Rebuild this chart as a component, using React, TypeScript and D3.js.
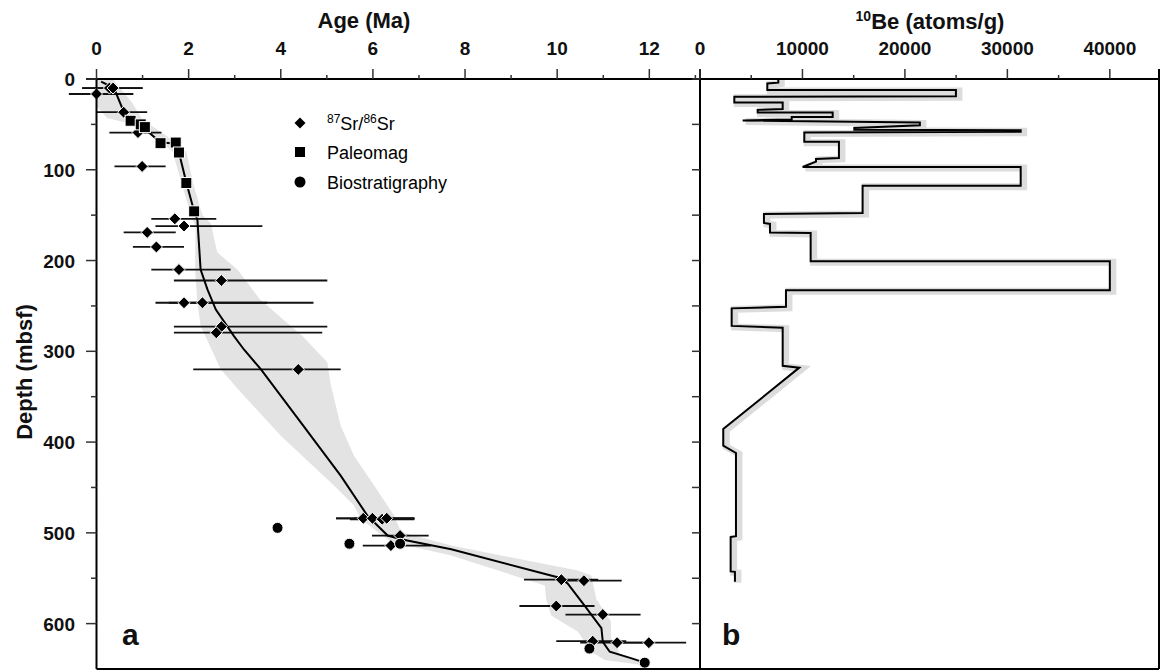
import React from "react";
import * as d3 from "d3";

// --- panel a: age tie points ---
const srAge = [0.28, 0.36, 0.0, 0.59, 0.9, 0.99, 1.7, 1.9, 1.1, 1.3, 1.79, 2.71, 1.9, 2.3, 2.71, 2.6, 4.38, 5.79, 5.99, 6.2, 6.3, 6.59, 6.39, 10.09, 10.58, 9.98, 10.99, 10.77, 11.3, 11.99];
const srDepth = [10, 10, 16.5, 36.6, 59, 96.3, 154, 162, 169, 185, 210, 222, 246.5, 246.5, 272.8, 279.5, 320, 484, 484, 485, 484, 503, 514, 551.6, 552.7, 580.6, 590, 619.4, 621, 621];
const srErrLo = [-0.31, -0.31, -0.6, 0.0, 0.28, 0.39, 1.19, 1.28, 0.59, 0.79, 1.19, 1.68, 1.28, 1.57, 1.68, 1.68, 2.1, 5.2, 5.2, 5.5, 5.6, 5.98, 5.78, 9.28, 10.09, 9.18, 10.18, 9.98, 10.5, 11.2];
const srErrHi = [1.0, 1.0, 0.8, 1.1, 1.41, 1.5, 2.6, 3.6, 1.72, 1.9, 2.91, 5.01, 3.71, 4.71, 5.01, 4.9, 5.3, 6.9, 6.9, 6.9, 6.9, 7.21, 7.26, 10.89, 11.4, 10.81, 11.81, 11.5, 12.1, 12.8];

const magAge = [0.74, 0.96, 1.05, 1.39, 1.72, 1.79, 1.95, 2.12];
const magDepth = [46, 50, 53, 70.7, 70, 81, 114.6, 145.8];

const bioAge = [3.93, 5.49, 6.59, 10.7, 11.9];
const bioDepth = [494.5, 512, 512, 627.5, 643];

// age model
const modelAge = [0.1, 0.38, 0.59, 0.8, 1.05, 1.39, 1.72, 1.79, 1.95, 2.12, 2.19, 2.26, 2.41, 2.59, 2.98, 3.2, 3.57, 4.43, 5.3, 5.88, 6.32, 6.61, 7.7, 10.09, 10.23, 10.59, 10.96, 10.99, 11.14, 11.6, 11.9];
const modelDepth = [3, 10, 36, 47, 55, 70, 71, 81, 114, 146, 155, 210, 232, 254, 283, 298, 320, 378, 437, 481, 503, 507, 518, 550, 556, 580, 605, 620, 631, 638, 643];

// uncertainty envelope: right edge top->bottom, then left edge bottom->top
const envAge = [0.35, 0.77, 1.0, 1.5, 1.95, 2.1, 2.3, 2.48, 2.62, 3.06, 3.55, 4.47, 5.01, 5.09, 5.3, 5.59, 6.03, 6.46, 6.61, 7.7, 10.45, 10.74, 10.85, 11.17, 11.17, 11.39, 11.9, 11.9,
  11.75, 11.03, 10.74, 10.45, 9.87, 9.76, 9.73, 7.7, 6.4, 5.74, 5.59, 5.16, 4.0, 3.13, 2.7, 2.26, 2.19, 2.14, 2.15, 2.05, 1.85, 1.65, 1.3, 0.8, 0.23, 0.0, 0.0];
const envDepth = [0, 26, 45, 62, 80, 115, 150, 159, 191, 210, 243, 283, 312, 338, 382, 415, 448, 481, 499, 514, 541.5, 547, 573, 598, 616, 635, 642, 645,
  645, 640, 631, 609, 591, 573, 558, 525, 510, 485, 470, 448, 393, 345, 320, 272, 246, 210, 162, 150, 115, 80, 65, 50, 43, 30, 0];

// --- panel b: 10Be profile ---
const beValue = [7640, 7640, 6570, 6570, 24980, 24980, 3350, 3350, 8070, 8070, 5630, 5630, 12950, 12950, 8950, 8950, 4160, 21460, 21460, 15060, 15060, 31300, 31300, 10180, 10180, 13560, 13560, 11320, 11320, 10020, 31300, 31300, 15870, 15870, 6240, 6240, 6830, 6830, 10800, 10800, 40000, 40000, 8390, 8390, 3090, 3090, 8070, 8070, 9690, 2270, 2270, 3510, 3510, 2990, 2990, 3410, 3410];
const beDepth = [0, 4, 5, 12, 12, 19, 19.5, 26, 26, 33, 34, 37, 37, 42, 42, 44.5, 45.8, 48, 51, 54, 56, 56.5, 58, 59, 69, 69, 87, 88, 91, 97, 97, 117.6, 117.6, 147.6, 148.7, 158.6, 159.7, 169, 169.6, 200.7, 200.7, 232.6, 232.6, 251, 252.7, 272, 274, 316, 318, 385.7, 404, 412, 503.6, 504.7, 542.5, 543, 554];

// ticks
const ageMajor = [0, 2, 4, 6, 8, 10, 12];
const ageMinor = [1, 3, 5, 7, 9, 11, 13];
const beMajor = [0, 10000, 20000, 30000, 40000];
const beMinor = [5000, 15000, 25000, 35000];
const depthMajor = [0, 100, 200, 300, 400, 500, 600];
const depthMinor = [50, 150, 250, 350, 450, 550];
const depthAll = [0, 50, 100, 150, 200, 250, 300, 350, 400, 450, 500, 550, 600];

const W = 1160;
const H = 670;
const FONT = "'Liberation Sans', Arial, Helvetica, sans-serif";

const App = () => {
  const y = d3.scaleLinear().domain([0, 650]).range([79, 669]);
  const xA = d3.scaleLinear().domain([0, 13.1]).range([96.5, 700]);
  const xB = d3.scaleLinear().domain([0, 44800]).range([700, 1159]);
  const top = y(0);
  const bottom = y(650);

  const modelPath = d3
    .line<number>()
    .x((i) => xA(modelAge[i]))
    .y((i) => y(modelDepth[i]))(modelAge.map((_, i) => i));

  const envPath = d3
    .line<number>()
    .x((i) => xA(envAge[i]))
    .y((i) => y(envDepth[i]))(envAge.map((_, i) => i)) + "Z";

  const bePath = d3
    .line<number>()
    .x((i) => xB(beValue[i]))
    .y((i) => y(beDepth[i]))(beValue.map((_, i) => i));

  const diamond = (r: number) => `M0,${-r}L${r},0L0,${r}L${-r},0Z`;

  return (
    <svg
      width={W}
      height={H}
      style={{ position: "absolute", left: 0, top: 0, background: "#fff" }}
      fontFamily={FONT}
    >
      {/* envelope */}
      <path d={envPath} fill="#e3e3e3" stroke="none" />

      {/* error bars */}
      {srAge.map((_, i) => (
        <line
          key={"e" + i}
          x1={xA(srErrLo[i])}
          x2={xA(srErrHi[i])}
          y1={y(srDepth[i])}
          y2={y(srDepth[i])}
          stroke="#111"
          strokeWidth={1.8}
        />
      ))}

      {/* age model */}
      <path d={modelPath} fill="none" stroke="#000" strokeWidth={2} />

      {/* markers */}
      {srAge.map((a, i) => (
        <path
          key={"s" + i}
          d={diamond(6)}
          transform={`translate(${xA(a)},${y(srDepth[i])})`}
          fill="#000"
          stroke="#fff"
          strokeWidth={1}
        />
      ))}
      {magAge.map((a, i) => (
        <rect
          key={"m" + i}
          x={xA(a) - 5.5}
          y={y(magDepth[i]) - 5.5}
          width={11}
          height={11}
          fill="#000"
          stroke="#fff"
          strokeWidth={1}
        />
      ))}
      {bioAge.map((a, i) => (
        <circle key={"b" + i} cx={xA(a)} cy={y(bioDepth[i])} r={5.5} fill="#000" stroke="#fff" strokeWidth={1} />
      ))}

      {/* legend */}
      <g fontSize={18}>
        <path d={diamond(5.5)} transform="translate(300,123)" fill="#000" />
        <text x={327} y={129.5}>
          <tspan fontSize={12} dy={-7}>87</tspan>
          <tspan dy={7}>Sr/</tspan>
          <tspan fontSize={12} dy={-7}>86</tspan>
          <tspan dy={7}>Sr</tspan>
        </text>
        <rect x={295} y={147} width={10} height={10} fill="#000" />
        <text x={327} y={158.5}>Paleomag</text>
        <circle cx={300} cy={182} r={5.5} fill="#000" />
        <text x={327} y={188.5}>Biostratigraphy</text>
      </g>

      {/* 10Be profile */}
      <path d={bePath} fill="none" stroke="#dcdcdc" strokeWidth={7} transform="translate(3,1)" />
      <path d={bePath} fill="none" stroke="#000" strokeWidth={2} />

      {/* frame */}
      <g stroke="#000" strokeWidth={2} fill="none">
        <line x1={86} x2={1159} y1={top} y2={top} />
        <line x1={96.5} x2={1159} y1={bottom} y2={bottom} />
        <line x1={96.5} x2={96.5} y1={top} y2={bottom} />
        <line x1={700} x2={700} y1={top - 10} y2={bottom} />
        <line x1={1159} x2={1159} y1={top - 10} y2={bottom} />
      </g>

      {/* top ticks */}
      <g stroke="#333" strokeWidth={1.5}>
        {ageMajor.map((t) => (
          <line key={"am" + t} x1={xA(t)} x2={xA(t)} y1={top - 10} y2={top} />
        ))}
        {ageMinor.map((t) => (
          <line key={"an" + t} x1={xA(t)} x2={xA(t)} y1={top - 4} y2={top} />
        ))}
        {beMajor.map((t) => (
          <line key={"bm" + t} x1={xB(t)} x2={xB(t)} y1={top - 10} y2={top} />
        ))}
        {beMinor.map((t) => (
          <line key={"bn" + t} x1={xB(t)} x2={xB(t)} y1={top - 4} y2={top} />
        ))}
        {depthMajor.map((t) => (
          <line key={"dm" + t} x1={86} x2={96.5} y1={y(t)} y2={y(t)} />
        ))}
        {depthMinor.map((t) => (
          <line key={"dn" + t} x1={91} x2={96.5} y1={y(t)} y2={y(t)} />
        ))}
        {depthAll.map((t) => (
          <line key={"db" + t} x1={692} x2={700} y1={y(t)} y2={y(t)} />
        ))}
      </g>

      {/* tick labels */}
      <g fontSize={19} fontWeight="bold" fill="#111">
        {ageMajor.map((t) => (
          <text key={"al" + t} x={xA(t)} y={55} textAnchor="middle">
            {t}
          </text>
        ))}
        {beMajor.map((t) => (
          <text key={"bl" + t} x={xB(t)} y={55} textAnchor="middle">
            {t}
          </text>
        ))}
        {depthMajor.map((t) => (
          <text key={"dl" + t} x={75} y={y(t) + 7} textAnchor="end">
            {t}
          </text>
        ))}
      </g>

      {/* titles */}
      <g fontWeight="bold" fill="#111">
        <text x={364} y={28} fontSize={22} textAnchor="middle">
          Age (Ma)
        </text>
        <text x={930} y={29} fontSize={22} textAnchor="middle">
          <tspan fontSize={14} dy={-8}>10</tspan>
          <tspan dy={8}>Be (atoms/g)</tspan>
        </text>
        <text transform="translate(32,372) rotate(-90)" fontSize={22} textAnchor="middle">
          Depth (mbsf)
        </text>
        <text x={122} y={645} fontSize={30}>
          a
        </text>
        <text x={722} y={645} fontSize={30}>
          b
        </text>
      </g>
    </svg>
  );
};

export default App;
